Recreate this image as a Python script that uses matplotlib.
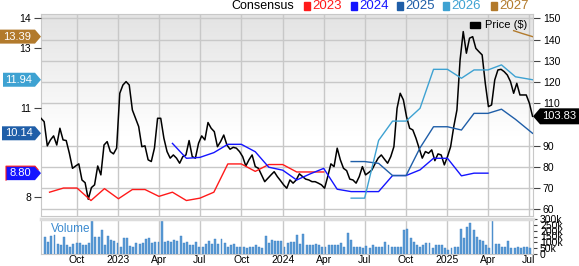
import numpy as np
import pandas as pd
import matplotlib
matplotlib.use('Agg')
import matplotlib.pyplot as plt
import matplotlib.transforms as mtransforms
from matplotlib.patches import Polygon, Rectangle

plt.rcParams['font.family'] = ['Liberation Sans', 'DejaVu Sans']

# weekly closing price ($)
price = [102.9, 101.3, 89.9, 92.7, 94.6, 90.3, 98.2, 92.7, 92.4, 86.4, 79.3, 80.4, 81.4, 73.8, 72.5, 64.7,
         70.2, 71.5, 80.4, 76.2, 90.3, 91.9, 87.2, 86.1, 88.8, 114.7, 118.6, 120.2, 118.6, 106.8, 102.9, 99,
         89.5, 89.9, 83.3, 82.5, 88.8, 102.9, 102.9,
         93.5, 87.2, 84.1, 85.6, 84.1, 81.7, 84.8, 85.6, 92.4, 84.8, 84.1, 91.1, 94.6, 92.7, 100.9, 98.2,
         96.6, 89.5, 91.9, 95, 90.3, 88.3, 89.2, 88.8, 87.2, 84.8, 80.4, 83.3, 85.6, 80.1, 79.3, 76.2, 73,
         74.6, 76.2, 77.7, 75.4, 73.5, 71.5,
         69.9, 73.8, 72.3, 73.8, 76.7, 75.4, 74.2, 73.8, 73, 73, 72.3, 71.5, 69.9, 75.4, 81.4, 80.1, 88.8,
         83.3, 79.3, 78.2, 74.2, 73.8, 72.3, 75.4, 80.1, 76.2, 77.3, 78.5, 81.4, 84.1, 85.6, 83.6, 81.7,
         84.8, 89.5, 107.6, 114.7,
         111.6, 103.7, 98.2, 97.4, 93.5, 88.8, 84.1, 87.2, 86.4, 88, 82.9, 86.1, 85.6, 80.9, 84.8, 89.5,
         99, 106.8, 130.4, 143.8, 133.6, 140.7, 141.4, 135.9, 134.3, 132.8, 119.4, 108.4, 109.2, 121,
         125.7, 126, 124.9, 123.3, 120.2, 114.7, 119.4, 113.9, 113.9, 113.9, 110, 103.83]
price_dates = pd.date_range(end='2025-07-09', periods=len(price), freq='7D')

# weekly volume (thousands)
volume = [143, 101, 157, 162, 84, 73, 143, 78, 56, 84, 95, 92, 73, 78, 92, 280, 148, 143, 204, 78,
          157, 123, 112, 92, 64, 134, 140, 70, 62, 92, 84, 95, 129, 140, 92, 106, 106, 280, 101, 112,
          106, 120, 112, 154, 92, 101, 78, 73, 101, 64, 64, 84, 112, 84, 129, 84, 129, 92, 64, 78,
          87, 56, 56, 62, 50, 62, 64, 73, 64, 50, 157, 92, 120, 112, 112, 112, 64,
          92, 101, 106, 162, 84, 171, 73, 73, 73, 84, 73, 56, 56, 73, 78, 73, 78, 92, 64, 176,
          120, 64, 64, 64, 50, 67, 50, 73, 56, 56, 62, 101, 78, 56, 56, 64, 64, 204, 213, 140,
          106, 78, 64, 78, 92, 92, 50, 73, 78, 73, 50, 36, 50, 56, 56, 218, 134, 232, 269, 204,
          148, 120, 112, 78, 50, 280, 84, 84, 64, 56, 112, 50, 50, 64, 50, 56, 64, 50]
volume_dates = pd.date_range(end='2025-07-04', periods=len(volume), freq='7D')

# consensus EPS estimates by fiscal year
eps_2023_dates = pd.date_range('2022-08-01', '2024-04-01', freq='MS')
eps_2023 = [8.16, 8.30, 8.30, 7.88, 8.28, 7.94, 8.25, 8.25, 8.02, 8.16, 7.88, 7.96, 8.16, 9.11, 9.11,
            8.86, 9.09, 9.09, 8.84, 8.84, 8.84]
eps_2024_dates = pd.date_range('2023-05-01', '2025-04-01', freq='MS')
eps_2024 = [9.80, 9.30, 9.33, 9.49, 9.77, 9.77, 9.52, 9.00, 8.90, 8.57, 8.77, 8.96, 8.26, 8.18, 8.18,
            8.18, 8.72, 8.72, 8.91, 9.30, 9.30, 8.71, 8.80, 8.80]
eps_2025_dates = list(pd.date_range('2024-06-01', '2025-06-01', freq='MS')) + [pd.Timestamp('2025-07-09')]
eps_2025 = [9.19, 9.19, 9.13, 8.72, 8.72, 9.65, 10.36, 10.36, 10.25, 10.81, 10.81, 10.95, 10.61, 10.14]
eps_2026_dates = list(pd.date_range('2024-06-01', '2025-06-01', freq='MS')) + [pd.Timestamp('2025-07-09')]
eps_2026 = [7.96, 7.96, 9.90, 10.55, 10.55, 10.98, 12.29, 12.29, 11.99, 12.27, 12.27, 12.44, 12.04, 11.94]
eps_2027_dates = pd.to_datetime(['2025-05-28', '2025-06-15', '2025-07-09'])
eps_2027 = [13.59, 13.50, 13.39]

years = ['2023', '2024', '2025', '2026', '2027']
colors = ['#ff1a1a', '#1414ff', '#1f5ea8', '#3ea2d2', '#b27a2c']
# latest consensus per year shown in the left tags (2024 .. 2027)
tag_values = [8.80, 10.14, 11.94, 13.39]

x_ticks = pd.to_datetime(['2022-10-01', '2023-01-01', '2023-04-01', '2023-07-01', '2023-10-01',
                          '2024-01-01', '2024-04-01', '2024-07-01', '2024-10-01', '2025-01-01',
                          '2025-04-01', '2025-07-01'])
x_labels = ['Oct', '2023', 'Apr', 'Jul', 'Oct', '2024', 'Apr', 'Jul', 'Oct', '2025', 'Apr', 'Jul']

W, H = 579, 266
fig = plt.figure(figsize=(W / 100, H / 100), dpi=100)
fig.patch.set_facecolor('white')

ax = fig.add_axes([41 / W, 1 - 216 / H, 492 / W, 202 / H])
axv = fig.add_axes([41 / W, 1 - 254 / H, 492 / W, 35 / H])
ax2 = ax.twinx()

xmin, xmax = pd.Timestamp('2022-07-13'), pd.Timestamp('2025-07-10')
grid_c = '#c8c8c8'
fs = 7.5

# gradient background, gray at the top fading to white
grad = np.linspace(0, 1, 200).reshape(-1, 1)
grad = np.clip(grad / 0.6, 0, 1)
bg = np.dstack([0.89 + 0.11 * grad] * 3)
ax.imshow(bg, extent=[0, 1, 0, 1], transform=ax.transAxes, aspect='auto', zorder=0)

ax.set_xlim(xmin, xmax)
ax.set_ylim(56.8, 152.1)
ax.set_yticks([60, 70, 80, 90, 110, 120, 130, 140, 150])
ax.yaxis.tick_right()
ax.set_xticks(x_ticks)
ax.set_xticklabels([])
ax.tick_params(axis='x', length=0)
ax.tick_params(axis='y', length=5, color='#444444', labelsize=fs, pad=2)
ax.grid(True, color=grid_c, lw=1, zorder=1)
ax.set_axisbelow(True)
for s in ax.spines.values():
    s.set_color(grid_c)

ax.plot(price_dates, price, color='black', lw=1.1, zorder=5)

ax2.set_ylim(7.36, 14.15)
ax2.yaxis.tick_left()
ax2.set_yticks([8, 11, 13, 14])
ax2.tick_params(axis='y', length=5, color='#444444', labelsize=fs, pad=2)
for s in ax2.spines.values():
    s.set_visible(False)

eps_series = [(eps_2023_dates, eps_2023), (eps_2024_dates, eps_2024), (eps_2025_dates, eps_2025),
              (eps_2026_dates, eps_2026), (eps_2027_dates, eps_2027)]
for (d, v), c in zip(eps_series, colors):
    ax2.plot(d, v, color=c, lw=1.0, zorder=3)

# volume panel
axv.bar(volume_dates, volume, width=4.3, color='#5b9bd5', edgecolor='#3a7fc4', lw=0.3)
axv.set_xlim(xmin, xmax)
axv.set_ylim(0, 300)
axv.yaxis.tick_right()
axv.set_yticks([0, 50, 100, 150, 200, 250, 300])
axv.set_yticklabels(['0', '50k', '100k', '150k', '200k', '250k', '300k'])
axv.tick_params(axis='y', length=3, color='#444444', labelsize=fs, pad=2)
axv.set_xticks(x_ticks)
axv.set_xticklabels(x_labels)
axv.tick_params(axis='x', length=0, labelsize=fs, pad=1)
axv.grid(True, axis='x', color=grid_c, lw=1)
axv.set_axisbelow(True)
for s in axv.spines.values():
    s.set_color(grid_c)
axv.spines['top'].set_linewidth(2.5)
axv.spines['top'].set_color('#dcdcdc')
axv.text(0.02, 0.9, 'Volume', transform=axv.transAxes, color='#3a8ad0', fontsize=8.5, va='top')

# consensus tags on the left
tr_left = mtransforms.blended_transform_factory(fig.transFigure, ax2.transData)
hh = 7 / 29.75
tag_left = [6, 2, 3, 0]
for val, c, x0 in zip(tag_values, colors[1:], tag_left):
    pts = [(x0 / W, val - hh), (35 / W, val - hh), (41 / W, val), (35 / W, val + hh), (x0 / W, val + hh)]
    ax2.add_patch(Polygon(pts, closed=True, transform=tr_left, facecolor=c, edgecolor='none',
                          clip_on=False, zorder=10))
    ax2.text((x0 + 35) / 2 / W, val, f'{val:.2f}', transform=tr_left, color='white', fontsize=8,
             ha='center', va='center', clip_on=False, zorder=11)
    if c == colors[1]:
        # red edge of the 2023 tag peeking out behind the 2024 tag
        ax2.plot([x0 / W, x0 / W, 35 / W, 38 / W], [val - hh, val + hh, val + hh, val + hh / 2],
                 color=colors[0], lw=0.8, transform=tr_left, clip_on=False, zorder=12)

# last price tag on the right
tr_right = mtransforms.blended_transform_factory(fig.transFigure, ax.transData)
ph = 8 / 2.12
last = price[-1]
pts = [(533 / W, last), (540 / W, last + ph), (579 / W, last + ph), (579 / W, last - ph), (540 / W, last - ph)]
ax.add_patch(Polygon(pts, closed=True, transform=tr_right, facecolor='black', edgecolor='none',
                     clip_on=False, zorder=10))
ax.text(559 / W, last, f'{last:.2f}', transform=tr_right, color='white', fontsize=8,
        ha='center', va='center', clip_on=False, zorder=11)

# price legend inside the plot
fig.patches.append(Rectangle((470 / W, 1 - 27.5 / H), 10 / W, 5 / H, transform=fig.transFigure, color='black'))
fig.text(485 / W, 1 - 25 / H, 'Price ($)', fontsize=8, va='center', ha='left')

# consensus legend at top
fig.text(231 / W, 1 - 6 / H, 'Consensus', fontsize=9, va='center', ha='left')
sq_x = [304, 351, 397, 443, 491]
for x0, yr, c in zip(sq_x, years, colors):
    fig.patches.append(Rectangle((x0 / W, 1 - 10 / H), 6 / W, 8 / H, transform=fig.transFigure, color=c))
    fig.text((x0 + 8) / W, 1 - 6 / H, yr, fontsize=9.5, va='center', ha='left', color=c)

fig.savefig('out.png', dpi=100)
